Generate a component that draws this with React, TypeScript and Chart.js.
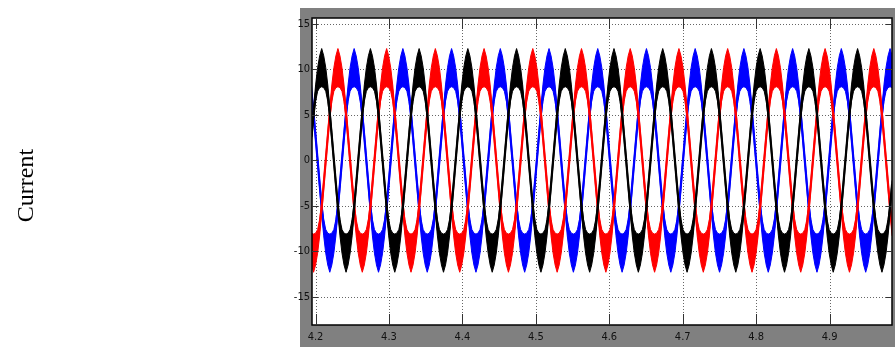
import { useEffect, useRef } from 'react';
import { Chart, registerables } from 'chart.js';

Chart.register(...registerables);

// ---- data ----
const xTickValues = [4.2, 4.3, 4.4, 4.5, 4.6, 4.7, 4.8, 4.9];
const xTickLabels = ['4.2', '4.3', '4.4', '4.5', '4.6', '4.7', '4.8', '4.9'];
const yTickValues = [-15, -10, -5, 0, 5, 10, 15];
const yTickLabels = ['-15', '-10', '-5', '0', '5', '10', '15'];
const xRange = [4.1952, 4.985];
const yRange = [-18.1, 15.66];
const yAxisTitle = 'Current';

const phaseNames = ['Phase A', 'Phase B', 'Phase C'];
const phaseColors = ['#000000', '#ff0000', '#0000ff'];
// time of the first positive peak of each phase (s)
const phasePeakTimes = [4.2084, 4.2305, 4.2526];
// measured period of the phase currents (s)
const periodSeconds = 0.06634;
// one recorded period, every 15 degrees from the positive peak (A): mean trace
const cycleCurrent = [10.2, 9.9, 8.8, 7.2, 5.1, 2.6, 0, -2.6, -5.1, -7.2, -8.8, -9.9,
  -10.2, -9.9, -8.8, -7.2, -5.1, -2.6, 0, 2.6, 5.1, 7.2, 8.8, 9.9];
// top edge of the ripple band at the same points (A)
const cycleUpper = [12.3, 11.5, 10.2, 8.3, 5.8, 3.1, 0.4, -2.2, -4.6, -6.5, -7.6, -8.0,
  -8.1, -8.0, -7.6, -6.5, -4.6, -2.2, 0.4, 3.1, 5.8, 8.3, 10.2, 11.5];
// bottom edge of the ripple band at the same points (A)
const cycleLower = [8.1, 8.0, 7.6, 6.5, 4.6, 2.2, -0.4, -3.1, -5.8, -8.3, -10.2, -11.5,
  -12.3, -11.5, -10.2, -8.3, -5.8, -3.1, -0.4, 2.2, 4.6, 6.5, 7.6, 8.0];

function buildPhase(t0: number) {
  const n = cycleCurrent.length;
  const step = periodSeconds / n;
  const kStart = Math.floor((xRange[0] - t0) / step) - 1;
  const kEnd = Math.ceil((xRange[1] - t0) / step) + 1;
  const center: { x: number; y: number }[] = [];
  const upper: { x: number; y: number }[] = [];
  const lower: { x: number; y: number }[] = [];
  for (let k = kStart; k <= kEnd; k++) {
    const i = ((k % n) + n) % n;
    const x = t0 + k * step;
    center.push({ x, y: cycleCurrent[i] });
    upper.push({ x, y: cycleUpper[i] });
    lower.push({ x, y: cycleLower[i] });
  }
  return { center, upper, lower };
}

const framePlugin = {
  id: 'matlabFrame',
  beforeDraw(chart: any) {
    const { ctx, chartArea: a, scales } = chart;
    const xs = scales.x;
    const ys = scales.y;
    ctx.save();
    ctx.fillStyle = '#ffffff';
    ctx.fillRect(0, 0, chart.width, chart.height);
    ctx.fillStyle = '#808080';
    ctx.fillRect(a.left - 12, a.top - 10, chart.width - (a.left - 12), chart.height - (a.top - 10));
    ctx.fillStyle = '#ffffff';
    ctx.fillRect(a.left, a.top, a.right - a.left, a.bottom - a.top);
    ctx.strokeStyle = '#666666';
    ctx.lineWidth = 1;
    ctx.setLineDash([1, 2]);
    xTickValues.forEach((v) => {
      const px = Math.round(xs.getPixelForValue(v)) + 0.5;
      ctx.beginPath();
      ctx.moveTo(px, a.top);
      ctx.lineTo(px, a.bottom);
      ctx.stroke();
    });
    yTickValues.forEach((v) => {
      const py = Math.round(ys.getPixelForValue(v)) + 0.5;
      ctx.beginPath();
      ctx.moveTo(a.left, py);
      ctx.lineTo(a.right, py);
      ctx.stroke();
    });
    ctx.restore();
  },
  afterDatasetsDraw(chart: any) {
    const { ctx, chartArea: a, scales } = chart;
    const xs = scales.x;
    const ys = scales.y;
    ctx.save();
    ctx.setLineDash([]);
    ctx.strokeStyle = '#000000';
    ctx.lineWidth = 1.5;
    ctx.strokeRect(a.left, a.top, a.right - a.left, a.bottom - a.top);
    ctx.lineWidth = 1;
    ctx.strokeStyle = '#333333';
    xTickValues.forEach((v) => {
      const px = Math.round(xs.getPixelForValue(v)) + 0.5;
      ctx.beginPath();
      ctx.moveTo(px, a.bottom);
      ctx.lineTo(px, a.bottom - 11);
      ctx.moveTo(px, a.top);
      ctx.lineTo(px, a.top + 11);
      ctx.stroke();
    });
    yTickValues.forEach((v) => {
      const py = Math.round(ys.getPixelForValue(v)) + 0.5;
      ctx.beginPath();
      ctx.moveTo(a.left, py);
      ctx.lineTo(a.left + 6, py);
      ctx.moveTo(a.right, py);
      ctx.lineTo(a.right - 6, py);
      ctx.stroke();
    });
    ctx.restore();
  },
  afterDraw(chart: any) {
    const { ctx, chartArea: a } = chart;
    ctx.save();
    ctx.translate(33, (a.top + a.bottom) / 2 + 14);
    ctx.rotate(-Math.PI / 2);
    ctx.fillStyle = '#000000';
    ctx.font = '24px "Liberation Serif", "Times New Roman", serif';
    ctx.textAlign = 'center';
    ctx.textBaseline = 'alphabetic';
    ctx.fillText(yAxisTitle, 0, 0);
    ctx.restore();
  },
};

const tickFont = { family: '"Liberation Sans Narrow", "DejaVu Sans Condensed", "Arial Narrow", sans-serif', size: 11 };

export default function App() {
  const canvasRef = useRef<HTMLCanvasElement | null>(null);

  useEffect(() => {
    const canvas = canvasRef.current;
    if (!canvas) return;
    const datasets: any[] = [];
    phasePeakTimes.forEach((t0, p) => {
      const { center, upper, lower } = buildPhase(t0);
      const color = phaseColors[p];
      const common = {
        borderColor: color,
        backgroundColor: color,
        pointRadius: 0,
        tension: 0,
        order: p,
      };
      datasets.push({ ...common, label: phaseNames[p] + ' ripple low', data: lower, borderWidth: 1, fill: false });
      datasets.push({ ...common, label: phaseNames[p] + ' ripple high', data: upper, borderWidth: 1, fill: '-1' });
      datasets.push({ ...common, label: phaseNames[p], data: center, borderWidth: 2.2, fill: false });
    });

    const chart = new Chart(canvas, {
      type: 'line',
      data: { datasets },
      options: {
        animation: false,
        responsive: false,
        devicePixelRatio: 1,
        events: [],
        layout: { padding: { top: 18, right: 3, left: 0, bottom: 0 } },
        plugins: { legend: { display: false }, tooltip: { enabled: false } },
        scales: {
          x: {
            type: 'linear',
            min: xRange[0],
            max: xRange[1],
            afterBuildTicks: (s: any) => {
              s.ticks = xTickValues.map((value) => ({ value }));
            },
            afterFit: (s: any) => {
              s.height = 22;
            },
            ticks: {
              callback: (_v: any, i: number) => xTickLabels[i],
              font: tickFont,
              color: '#111111',
              padding: 6,
              maxRotation: 0,
              autoSkip: false,
            },
            grid: { display: false, drawTicks: false },
            border: { display: false },
          },
          y: {
            type: 'linear',
            min: yRange[0],
            max: yRange[1],
            afterBuildTicks: (s: any) => {
              s.ticks = yTickValues.map((value) => ({ value }));
            },
            afterFit: (s: any) => {
              s.width = 312;
            },
            ticks: {
              callback: (_v: any, i: number) => yTickLabels[i],
              font: tickFont,
              color: '#111111',
              padding: 2,
              autoSkip: false,
            },
            grid: { display: false, drawTicks: false },
            border: { display: false },
          },
        },
      },
      plugins: [framePlugin],
    });
    return () => chart.destroy();
  }, []);

  return (
    <div style={{ position: 'fixed', left: 0, top: 0, width: 895, height: 347, background: '#ffffff' }}>
      <canvas ref={canvasRef} width={895} height={347} style={{ display: 'block' }} />
    </div>
  );
}
